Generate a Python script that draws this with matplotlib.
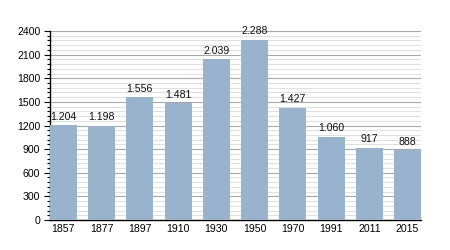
import numpy as np
import matplotlib.pyplot as plt
from matplotlib.ticker import MultipleLocator

plt.rcParams['font.family'] = ['Liberation Sans', 'DejaVu Sans']

# --- DATA ---
years = ["1857", "1877", "1897", "1910", "1930", "1950", "1970", "1991", "2011", "2015"]
population = [1204, 1198, 1556, 1481, 2039, 2288, 1427, 1060, 917, 888]
labels = ["1.204", "1.198", "1.556", "1.481", "2.039", "2.288", "1.427", "1.060", "917", "888"]

# --- PLOT ---
fig = plt.figure(figsize=(4.5, 2.5), dpi=100)
ax = fig.add_axes([50 / 450, 1 - 220 / 250, 371 / 450, 189 / 250])

x = np.arange(len(years))
ax.bar(x, population, width=0.7, color="#9ab3cd", zorder=3)

for xi, v, lab in zip(x, population, labels):
    ax.text(xi, v + 45, lab, ha="center", va="bottom", fontsize=7.6, color="#111111", zorder=4)

ax.set_xlim(-0.35, len(years) - 0.65)
ax.set_ylim(0, 2400)
ax.set_xticks(x)
ax.set_xticklabels(years)
ax.yaxis.set_major_locator(MultipleLocator(300))
ax.yaxis.set_minor_locator(MultipleLocator(60))

ax.grid(True, axis="y", which="major", color="#a8a8a8", linewidth=0.8, zorder=1)
ax.grid(True, axis="y", which="minor", color="#e0e0e0", linewidth=0.8, zorder=1)

ax.tick_params(axis="x", length=0, labelsize=7.6, pad=3)
ax.tick_params(axis="y", which="major", length=4, width=0.8, labelsize=7.6, pad=3)
ax.tick_params(axis="y", which="minor", length=2, width=0.8)

for s in ["top", "right"]:
    ax.spines[s].set_visible(False)
ax.spines["left"].set_linewidth(1)
ax.spines["bottom"].set_linewidth(1)

fig.savefig("out.png", dpi=100)
